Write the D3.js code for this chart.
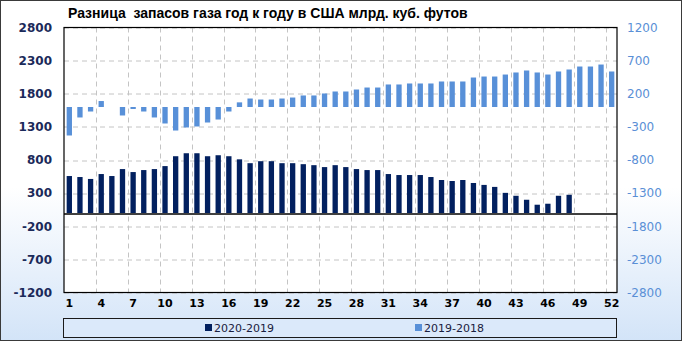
<!DOCTYPE html>
<html>
<head>
<meta charset="utf-8">
<script src="https://cdn.jsdelivr.net/npm/d3@7"></script>
<style>
  body { margin: 0; }
  svg { display: block; }
</style>
</head>
<body>
<svg width="682" height="341"></svg>
<script>
  // weeks of the year
  var weeks = d3.range(1, 53);
  var xTickLabels = [1, 4, 7, 10, 13, 16, 19, 22, 25, 28, 31, 34, 37, 40, 43, 46, 49, 52];
  var leftTicks = [-1200, -700, -200, 300, 800, 1300, 1800, 2300, 2800];
  var rightTicks = [-2800, -2300, -1800, -1300, -800, -300, 200, 700, 1200];

  // 2020-2019, left axis
  var diff2020 = [558, 543, 514, 588, 558, 663, 618, 648, 663, 708,
                  857, 902, 902, 857, 872, 857, 810, 752, 782, 782,
                  752, 752, 737, 722, 693, 722, 693, 663, 648, 648,
                  588, 573, 573, 573, 543, 498, 483, 498, 453, 424,
                  394, 304, 260, 200, 125, 140, 260, 275];
  // 2019-2018, right axis
  var diff2019 = [-430, -158, -68, 90, 0, -128, -30, -68, -158, -249,
                  -355, -309, -294, -234, -189, -68, 70, 128, 113, 113,
                  128, 143, 174, 174, 204, 234, 234, 264, 294, 294,
                  340, 340, 355, 355, 355, 385, 385, 385, 445, 460,
                  460, 490, 521, 551, 521, 490, 536, 566, 611, 611,
                  641, 536];

  var title = "Разница  запасов газа год к году в США млрд. куб. футов";
  var seriesNames = ["2020-2019", "2019-2018"];
  var dark = "#02205f", light = "#5890d8";

  var svg = d3.select("svg"),
      margin = {top: 27.5, left: 64, right: 65, bottom: 48.5},
      width = 682 - margin.left - margin.right,
      height = 341 - margin.top - margin.bottom;

  var plain = function(d) { return String(d); };

  // background gradient
  var grad = svg.append("defs").append("linearGradient")
    .attr("id", "bg").attr("x1", 0).attr("y1", 0).attr("x2", 0).attr("y2", 1);
  grad.append("stop").attr("offset", "0%").attr("stop-color", "#ffffff");
  grad.append("stop").attr("offset", "55%").attr("stop-color", "#ffffff");
  grad.append("stop").attr("offset", "100%").attr("stop-color", "#d3e4f8");

  svg.append("rect").attr("x", 0.5).attr("y", 0.5).attr("width", 681).attr("height", 340)
    .attr("fill", "url(#bg)").attr("stroke", "#3a3a3a");

  svg.append("text")
    .attr("x", 68).attr("y", 18)
    .style("font", "bold 14px 'Liberation Sans', Arial, sans-serif")
    .style("white-space", "pre")
    .attr("fill", "#000")
    .text(title);

  var g = svg.append("g").attr("transform", "translate(" + margin.left + "," + margin.top + ")");

  var x = d3.scaleBand().domain(weeks).range([0, width]).paddingInner(0.5).paddingOuter(0.25);
  var yL = d3.scaleLinear().domain([-1200, 2800]).range([height, 0]);
  var yR = d3.scaleLinear().domain([-2800, 1200]).range([height, 0]);

  g.append("rect").attr("width", width).attr("height", height).attr("fill", "#fff");

  // horizontal grid
  g.append("g").selectAll("line").data(leftTicks).enter().append("line")
    .attr("x1", 0).attr("x2", width)
    .attr("y1", function(d) { return Math.round(yL(d)) + 0.5; })
    .attr("y2", function(d) { return Math.round(yL(d)) + 0.5; })
    .attr("stroke", "#c4c4c4").attr("stroke-dasharray", "5,4");

  // vertical grid every 3 weeks
  var step = width / weeks.length;
  g.append("g").selectAll("line").data(d3.range(3, 52, 3)).enter().append("line")
    .attr("x1", function(d) { return Math.round(d * step) + 0.5; })
    .attr("x2", function(d) { return Math.round(d * step) + 0.5; })
    .attr("y1", 0).attr("y2", height)
    .attr("stroke", "#c4c4c4").attr("stroke-dasharray", "5,4");

  // bars
  g.append("g").selectAll("rect").data(diff2019).enter().append("rect")
    .attr("x", function(d, i) { return x(weeks[i]); })
    .attr("width", x.bandwidth())
    .attr("y", function(d) { return yR(Math.max(0, d)); })
    .attr("height", function(d) { return Math.abs(yR(d) - yR(0)); })
    .attr("fill", light);

  g.append("g").selectAll("rect").data(diff2020).enter().append("rect")
    .attr("x", function(d, i) { return x(weeks[i]); })
    .attr("width", x.bandwidth())
    .attr("y", function(d) { return yL(Math.max(0, d)); })
    .attr("height", function(d) { return Math.abs(yL(d) - yL(0)); })
    .attr("fill", dark);

  // zero line of the left axis
  g.append("line")
    .attr("x1", 0).attr("x2", width)
    .attr("y1", Math.round(yL(0)) + 0.5).attr("y2", Math.round(yL(0)) + 0.5)
    .attr("stroke", "#000").attr("stroke-width", 1.5);

  g.append("rect").attr("width", width).attr("height", height)
    .attr("fill", "none").attr("stroke", "#000").attr("stroke-width", 1.2);

  // axes
  var axL = g.append("g")
    .call(d3.axisLeft(yL).tickValues(leftTicks).tickFormat(plain).tickSize(0).tickPadding(12));
  axL.select(".domain").remove();
  axL.selectAll("text")
    .style("font", "bold 12px 'DejaVu Sans', sans-serif").attr("fill", "#1b2a5a");

  var axR = g.append("g").attr("transform", "translate(" + width + ",0)")
    .call(d3.axisRight(yR).tickValues(rightTicks).tickFormat(plain).tickSize(0).tickPadding(10));
  axR.select(".domain").remove();
  axR.selectAll("text")
    .style("font", "12px 'DejaVu Sans', sans-serif").attr("fill", "#5a8fd6");

  var axX = g.append("g").attr("transform", "translate(0," + height + ")")
    .call(d3.axisBottom(x).tickValues(xTickLabels).tickSize(0).tickPadding(7));
  axX.select(".domain").remove();
  axX.selectAll("text")
    .style("font", "bold 11px 'DejaVu Sans', sans-serif").attr("fill", "#000");

  // legend
  var leg = svg.append("g");
  leg.append("rect").attr("x", 63.5).attr("y", 318.5).attr("width", 553).attr("height", 19)
    .attr("fill", "#dbe9fa").attr("stroke", "#1a1a1a");
  var items = leg.selectAll(".item").data(seriesNames).enter().append("g")
    .attr("class", "item")
    .attr("transform", function(d, i) { return "translate(" + [205, 415][i] + ",324)"; });
  items.append("rect").attr("width", 7).attr("height", 7)
    .attr("fill", function(d, i) { return [dark, light][i]; });
  items.append("text").attr("x", 9).attr("y", 7.5)
    .style("font", "11px 'DejaVu Sans', sans-serif").attr("fill", "#1a2040")
    .text(function(d) { return d; });
</script>
</body>
</html>
